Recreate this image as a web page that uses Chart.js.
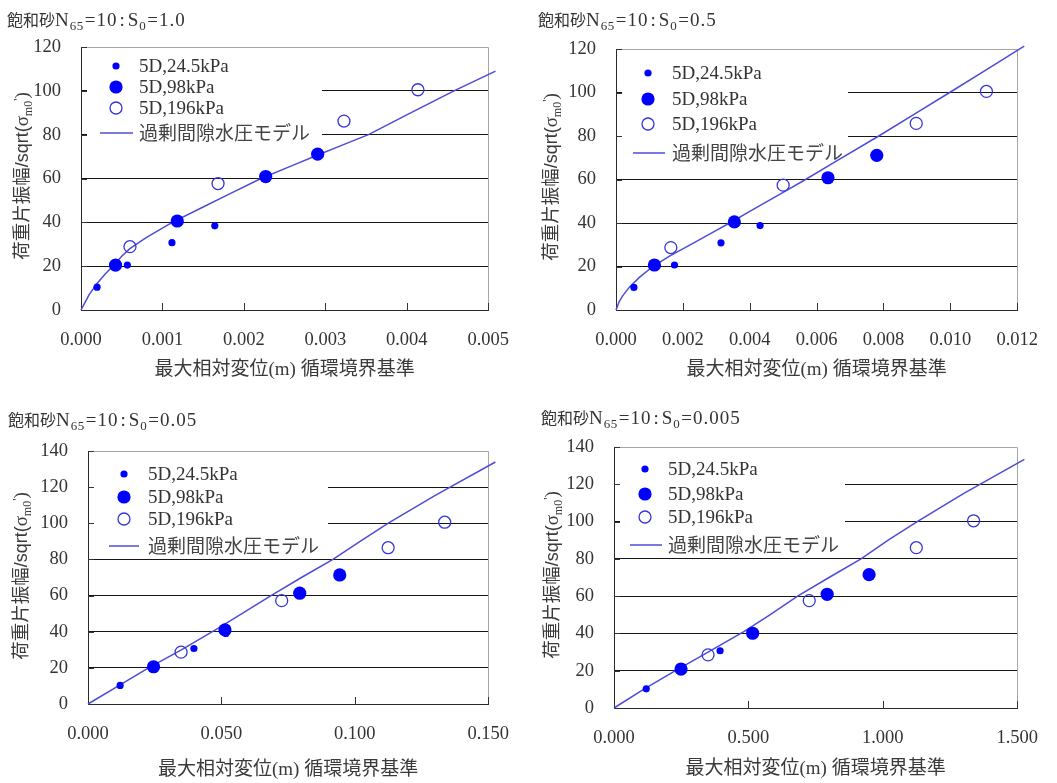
<!DOCTYPE html>
<html><head><meta charset="utf-8">
<script src="https://cdn.jsdelivr.net/npm/chart.js@4.4.0/dist/chart.umd.min.js"></script>
<style>
html,body{margin:0;padding:0;background:#fff;}
#wrap{position:relative;width:1057px;height:783px;overflow:hidden;background:#fff;}
#wrap canvas{position:absolute;}
</style></head><body>
<div id="wrap">
<canvas id="c1" width="528" height="390" style="left:0px;top:0px"></canvas>
<canvas id="c2" width="527" height="390" style="left:530px;top:0px"></canvas>
<canvas id="c3" width="528" height="383" style="left:0px;top:400px"></canvas>
<canvas id="c4" width="527" height="383" style="left:530px;top:400px"></canvas>
</div>
<script>
// ---------- DATA ----------
const seriesNames = ['5D,24.5kPa', '5D,98kPa', '5D,196kPa', '過剰間隙水圧モデル'];

// Panel 1 : S0 = 1.0
const p1SmallX = [0.000197, 0.000569, 0.001117, 0.001643];
const p1SmallY = [10.4, 20.5, 30.7, 38.4];
const p1BigX   = [0.000424, 0.001182, 0.002268, 0.002906];
const p1BigY   = [20.5, 40.6, 60.9, 71.1];
const p1OpenX  = [0.000601, 0.001683, 0.003229, 0.004137];
const p1OpenY  = [28.9, 57.7, 86.2, 100.5];
const p1ModelX = [0, 0.00005, 0.0001, 0.0002, 0.0003, 0.00039, 0.0005, 0.0006, 0.0008, 0.00112, 0.0015, 0.0018, 0.00221, 0.0026, 0.0029, 0.0032, 0.00353, 0.004, 0.00458, 0.00509];
const p1ModelY = [0, 3.5, 7, 12.2, 16.5, 20, 24.5, 28, 33, 40, 47, 52.5, 60, 66, 70.6, 75.1, 80, 89, 100, 109];

// Panel 2 : S0 = 0.5
const p2SmallX = [0.000536, 0.00175, 0.00314, 0.00431];
const p2SmallY = [10.4, 20.7, 30.9, 38.8];
const p2BigX   = [0.00115, 0.00354, 0.00634, 0.0078];
const p2BigY   = [20.7, 40.5, 60.8, 71.1];
const p2OpenX  = [0.00164, 0.005, 0.00898, 0.01108];
const p2OpenY  = [28.7, 57.4, 85.8, 100.5];
const p2ModelX = [0, 0.0001, 0.0002, 0.0004, 0.0007, 0.0011, 0.0016, 0.0023, 0.003, 0.0034, 0.004, 0.005, 0.00567, 0.0065, 0.00786, 0.009, 0.00998, 0.011, 0.01221];
const p2ModelY = [0, 4, 6.5, 10.5, 15, 20, 24.8, 30.6, 36.6, 40, 45.3, 54.1, 60, 67.6, 80, 90.7, 100, 109.7, 121.3];

// Panel 3 : S0 = 0.05
const p3SmallX = [0.01204, 0.0247, 0.0397, 0.0517];
const p3SmallY = [10.3, 20.3, 30.7, 39.0];
const p3BigX   = [0.02457, 0.05135, 0.07936, 0.09435];
const p3BigY   = [20.6, 41.0, 61.3, 71.4];
const p3OpenX  = [0.03489, 0.0726, 0.1125, 0.1337];
const p3OpenY  = [28.7, 57.2, 86.5, 100.6];
const p3ModelX = [0, 0.0114, 0.0227, 0.035, 0.0479, 0.058, 0.0686, 0.08, 0.0918, 0.102, 0.1124, 0.13, 0.1527];
const p3ModelY = [0, 10, 20, 30, 41.2, 50.3, 60, 70, 80, 90, 100, 115.3, 133.9];

// Panel 4 : S0 = 0.005
const p4SmallX = [0.1199, 0.249, 0.3947, 0.516];
const p4SmallY = [10.3, 20.5, 30.7, 39.5];
const p4BigX   = [0.2494, 0.5158, 0.793, 0.949];
const p4BigY   = [20.9, 40.1, 61.0, 71.5];
const p4OpenX  = [0.3499, 0.7264, 1.1247, 1.3378];
const p4OpenY  = [28.5, 57.6, 86.0, 100.4];
const p4ModelX = [0, 0.11, 0.2288, 0.35, 0.483, 0.58, 0.683, 0.8, 0.919, 1.02, 1.128, 1.3, 1.5267];
const p4ModelY = [0, 10, 20, 30, 41, 50, 60, 70, 80, 90, 100, 115, 133.4];

// Tick values / labels
const y120Vals = [0, 20, 40, 60, 80, 100, 120];
const y120Labels = ['0', '20', '40', '60', '80', '100', '120'];
const y140Vals = [0, 20, 40, 60, 80, 100, 120, 140];
const y140Labels = ['0', '20', '40', '60', '80', '100', '120', '140'];
const p1XVals = [0, 0.001, 0.002, 0.003, 0.004, 0.005];
const p1XLabels = ['0.000', '0.001', '0.002', '0.003', '0.004', '0.005'];
const p2XVals = [0, 0.002, 0.004, 0.006, 0.008, 0.010, 0.012];
const p2XLabels = ['0.000', '0.002', '0.004', '0.006', '0.008', '0.010', '0.012'];
const p3XVals = [0, 0.05, 0.10, 0.15];
const p3XLabels = ['0.000', '0.050', '0.100', '0.150'];
const p4XVals = [0, 0.5, 1.0, 1.5];
const p4XLabels = ['0.000', '0.500', '1.000', '1.500'];

const s0Labels = ['1.0', '0.5', '0.05', '0.005'];

// ---------- STYLE / LAYOUT ----------
const SERIF = '"Liberation Serif", "Times New Roman", serif';
const SANS = '"Liberation Sans", Arial, sans-serif';
const CJK = '"Noto Sans CJK JP", "Noto Sans CJK SC", sans-serif';
const TXT = '#333';

const pts = (xs, ys) => xs.map((x, i) => ({x: x, y: ys[i]}));

const panels = [
  {id:'c1', W:528, H:390, s0:s0Labels[0], xMax:0.005, yMax:120, xVals:p1XVals, xLabels:p1XLabels, yVals:y120Vals, yLabels:y120Labels,
   small:pts(p1SmallX,p1SmallY), big:pts(p1BigX,p1BigY), open:pts(p1OpenX,p1OpenY), model:pts(p1ModelX,p1ModelY),
   area:{l:81, r:494, t:47, b:310}, titleX:7, titleY:25.5, yTitle:{x:21, y:176}, xTitleY:368,
   lg:{mx:35, tx:58, rows:[19,40,61,86], lx1:19, lx2:52, boxW:241, boxT:4, boxB:98}},
  {id:'c2', W:527, H:390, s0:s0Labels[1], xMax:0.012, yMax:120, xVals:p2XVals, xLabels:p2XLabels, yVals:y120Vals, yLabels:y120Labels,
   small:pts(p2SmallX,p2SmallY), big:pts(p2BigX,p2BigY), open:pts(p2OpenX,p2OpenY), model:pts(p2ModelX,p2ModelY),
   area:{l:86, r:497, t:49, b:310}, titleX:8, titleY:25.5, yTitle:{x:20, y:177}, xTitleY:368,
   lg:{mx:32, tx:56, rows:[24,50,75,104], lx1:17, lx2:49, boxW:232, boxT:4, boxB:118}},
  {id:'c3', W:528, H:383, s0:s0Labels[2], xMax:0.15, yMax:140, xVals:p3XVals, xLabels:p3XLabels, yVals:y140Vals, yLabels:y140Labels,
   small:pts(p3SmallX,p3SmallY), big:pts(p3BigX,p3BigY), open:pts(p3OpenX,p3OpenY), model:pts(p3ModelX,p3ModelY),
   area:{l:88, r:495, t:51, b:304}, titleX:8, titleY:25.5, yTitle:{x:20, y:176}, xTitleY:368,
   lg:{mx:36, tx:60, rows:[23,46,68,95], lx1:21, lx2:51, boxW:240, boxT:4, boxB:104}},
  {id:'c4', W:527, H:383, s0:s0Labels[3], xMax:1.5, yMax:140, xVals:p4XVals, xLabels:p4XLabels, yVals:y140Vals, yLabels:y140Labels,
   small:pts(p4SmallX,p4SmallY), big:pts(p4BigX,p4BigY), open:pts(p4OpenX,p4OpenY), model:pts(p4ModelX,p4ModelY),
   area:{l:84, r:497, t:47, b:308}, titleX:11, titleY:24, yTitle:{x:21, y:175}, xTitleY:367,
   lg:{mx:31, tx:54, rows:[22,47,70,98], lx1:16, lx2:48, boxW:231, boxT:4, boxB:106}}
];

const COL_DOT = '#0000ff';
const COL_OPEN = '#3535d6';
const COL_LINE = '#4c4cd8';

function runsWidth(ctx, runs) {
  let w = 0;
  for (const r of runs) {
    ctx.font = r.f;
    if (r.ls) { for (const ch of r.t) w += ctx.measureText(ch).width + r.ls; }
    else w += ctx.measureText(r.t).width;
    w += (r.pad || 0);
  }
  return w;
}
function drawRuns(ctx, runs, x, y) {
  for (const r of runs) {
    ctx.font = r.f;
    if (r.ls) {
      for (const ch of r.t) { ctx.fillText(ch, x, y + (r.dy || 0)); x += ctx.measureText(ch).width + r.ls; }
    } else {
      ctx.fillText(r.t, x, y + (r.dy || 0)); x += ctx.measureText(r.t).width;
    }
    x += (r.pad || 0);
  }
}

function makeDeco(P) {
  return {
    id: 'deco',
    beforeDatasetsDraw(chart) {
      const ctx = chart.ctx, a = chart.chartArea, L = P.lg;
      const xs = chart.scales.x, ys = chart.scales.y;
      ctx.save();
      // legend background (hides gridlines)
      ctx.fillStyle = '#fff';
      ctx.fillRect(a.left + 6, a.top + L.boxT, L.boxW - 6, L.boxB - L.boxT);
      // top & right plot-area border
      ctx.strokeStyle = '#a6a6a6'; ctx.lineWidth = 1;
      ctx.beginPath();
      ctx.moveTo(a.left, Math.round(a.top) + 0.5); ctx.lineTo(Math.round(a.right) + 0.5, Math.round(a.top) + 0.5);
      ctx.lineTo(Math.round(a.right) + 0.5, a.bottom);
      ctx.stroke();
      // inner tick marks
      ctx.strokeStyle = '#333'; ctx.beginPath();
      ys.ticks.forEach(t => {
        if (t.value === 0) return;
        const y = Math.round(ys.getPixelForValue(t.value)) + 0.5;
        ctx.moveTo(a.left, y); ctx.lineTo(a.left + 6, y);
      });
      xs.ticks.forEach(t => {
        if (t.value === 0) return;
        const x = Math.round(xs.getPixelForValue(t.value)) + 0.5;
        ctx.moveTo(x, a.bottom); ctx.lineTo(x, a.bottom - 7);
      });
      ctx.stroke();
      // legend entries
      const ds = chart.data.datasets;
      const mx = a.left + L.mx, tx = a.left + L.tx;
      for (let i = 0; i < 3; i++) {
        const d = ds[i], y = a.top + L.rows[i];
        ctx.beginPath(); ctx.arc(mx, y, d.pointRadius, 0, Math.PI * 2);
        if (d.pointBorderWidth > 0) { ctx.lineWidth = d.pointBorderWidth; ctx.strokeStyle = d.pointBorderColor; ctx.stroke(); }
        else { ctx.fillStyle = d.pointBackgroundColor; ctx.fill(); }
        ctx.fillStyle = TXT; ctx.textBaseline = 'middle'; ctx.textAlign = 'left';
        ctx.font = '19px ' + SERIF;
        ctx.fillText(d.label, tx, y + 1);
      }
      const y3 = a.top + L.rows[3];
      ctx.strokeStyle = COL_LINE; ctx.lineWidth = 1.5;
      ctx.beginPath(); ctx.moveTo(a.left + L.lx1, y3); ctx.lineTo(a.left + L.lx2, y3); ctx.stroke();
      ctx.fillStyle = '#444'; ctx.font = '19px ' + CJK; ctx.textBaseline = 'middle';
      ctx.fillText(ds[3].label, tx, y3);
      ctx.restore();
    },
    afterDraw(chart) {
      const ctx = chart.ctx, a = chart.chartArea;
      ctx.save();
      ctx.fillStyle = TXT; ctx.textAlign = 'left'; ctx.textBaseline = 'alphabetic';
      // panel title
      const F = '19px ' + SERIF, FS = '13px ' + SERIF;
      const title = [
        {t:'飽和砂', f:'16px ' + CJK},
        {t:'N', f:F, ls:1}, {t:'65', f:FS, dy:4, ls:0.5, pad:1}, {t:'=10', f:F, ls:1, pad:2},
        {t:':', f:F, pad:3}, {t:'S', f:F, ls:1}, {t:'0', f:FS, dy:4, ls:0.5, pad:1}, {t:'=' + P.s0, f:F, ls:1}
      ];
      drawRuns(ctx, title, P.titleX, P.titleY);
      // x-axis title
      const xt = [
        {t:'最大相対変位', f:'19px ' + CJK}, {t:'(m)', f:'19px ' + SERIF}, {t:' ', f:'19px ' + SERIF},
        {t:'循環境界基準', f:'19px ' + CJK}
      ];
      ctx.fillStyle = '#3a3a3a';
      const xw = runsWidth(ctx, xt);
      drawRuns(ctx, xt, (a.left + a.right) / 2 - xw / 2, P.xTitleY + 7);
      // y-axis title (rotated)
      const yt = [
        {t:'荷重片振幅', f:'18.5px ' + CJK}, {t:'/sqrt(', f:'18px ' + SANS}, {t:'σ', f:'19px ' + SERIF},
        {t:'m0', f:'12px ' + SERIF, dy:4}, {t:"'", f:'13px ' + SERIF, dy:-6}, {t:')', f:'19px ' + SERIF}
      ];
      const yw = runsWidth(ctx, yt);
      ctx.translate(P.yTitle.x + 7, P.yTitle.y);
      ctx.rotate(-Math.PI / 2);
      drawRuns(ctx, yt, -yw / 2, 0);
      ctx.restore();
    }
  };
}

panels.forEach(P => {
  const gridColor = c => (c.tick && (c.tick.value === 0 || c.tick.value === P.yMax)) ? 'rgba(0,0,0,0)' : '#151515';
  new Chart(document.getElementById(P.id), {
    type: 'scatter',
    data: {
      datasets: [
        {label: seriesNames[0], data: P.small, pointRadius: 3.6, pointBackgroundColor: COL_DOT, pointBorderWidth: 0, pointBorderColor: COL_DOT, order: 1},
        {label: seriesNames[1], data: P.big, pointRadius: 6.6, pointBackgroundColor: COL_DOT, pointBorderWidth: 0, pointBorderColor: COL_DOT, order: 2},
        {label: seriesNames[2], data: P.open, pointRadius: 6, pointBackgroundColor: 'rgba(0,0,0,0)', pointBorderWidth: 1.3, pointBorderColor: COL_OPEN, order: 3},
        {label: seriesNames[3], data: P.model, showLine: true, pointRadius: 0, borderColor: COL_LINE, borderWidth: 1.5, fill: false, clip: false, order: 10}
      ]
    },
    options: {
      responsive: false, animation: false, devicePixelRatio: 1,
      events: [],
      layout: {padding: {left: 0, top: P.area.t, right: P.W - P.area.r, bottom: 0}},
      plugins: {legend: {display: false}, tooltip: {enabled: false}, title: {display: false}},
      scales: {
        x: {
          type: 'linear', position: 'bottom', min: 0, max: P.xMax,
          afterFit: s => { s.height = P.H - P.area.b; },
          afterBuildTicks: s => { s.ticks = P.xVals.map(v => ({value: v})); },
          ticks: {callback: (v, i) => P.xLabels[i], font: {family: SERIF, size: 18.5}, color: TXT, padding: 19, maxRotation: 0, autoSkip: false},
          grid: {display: false, drawTicks: false},
          border: {display: true, color: '#2a2a2a', width: 1}
        },
        y: {
          type: 'linear', position: 'left', min: 0, max: P.yMax,
          afterFit: s => { s.width = P.area.l; },
          afterBuildTicks: s => { s.ticks = P.yVals.map(v => ({value: v})); },
          ticks: {callback: (v, i) => P.yLabels[i], font: {family: SERIF, size: 18.5}, color: TXT, padding: 20, autoSkip: false},
          grid: {drawTicks: false, color: gridColor, lineWidth: 1},
          border: {display: true, color: '#2a2a2a', width: 1}
        }
      }
    },
    plugins: [makeDeco(P)]
  });
});
</script>
</body></html>
